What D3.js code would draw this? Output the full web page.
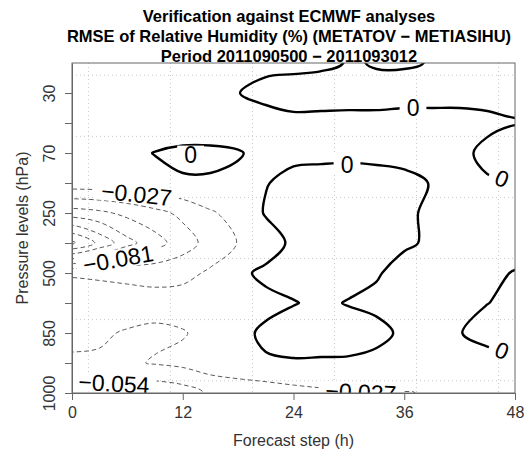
<!DOCTYPE html>
<html>
<head>
<meta charset="utf-8">
<script src="https://cdn.jsdelivr.net/npm/d3@7/dist/d3.min.js"></script>
<style>
  html, body { margin: 0; padding: 0; background: #fff; }
  svg { display: block; }
  text { font-family: "Liberation Sans", Arial, Helvetica, sans-serif; }
</style>
</head>
<body>
<svg id="chart" width="528" height="455"></svg>
<script>
// Forecast steps (h) along the x axis
const steps = [0, 3, 6, 9, 12, 15, 18, 21, 24, 27, 30, 33, 36, 39, 42, 45, 48];
// Pressure levels (hPa), top to bottom, drawn on an evenly spaced level axis
const levels = [10, 30, 50, 70, 100, 250, 400, 500, 700, 850, 925, 1000];
const labeledLevels = [30, 70, 250, 500, 850, 1000];
const stepTicks = [0, 12, 24, 36, 48];

// RMSE difference (METATOV − METIASIHU), one row per pressure level, one value per step
const p10   = [-0.008, -0.008, -0.008, -0.008, -0.008, -0.008, -0.008, -0.006, -0.005, -0.006, 0.0015, -0.001, -0.0015, 0.00065, 0.003, 0.005, 0.006];
const p30   = [-0.007, -0.007, -0.007, -0.007, -0.006, -0.004, -0.0005, 0.0068, 0.0085, 0.016, 0.012, 0.004, 0.006, 0.008, 0.008, 0.007, 0.006];
const p50   = [-0.008, -0.008, -0.009, -0.010, -0.012, -0.012, -0.008, -0.0102, -0.005, -0.0107, -0.009, -0.003, -0.006, -0.008, -0.008, -0.0047, -0.0012];
const p70   = [-0.007, -0.008, -0.004, 0.0005, 0.004, 0.004, 0.001, -0.004, -0.0049, -0.0059, -0.0059, -0.008, -0.0073, -0.006, -0.0053, 0.0053, 0.016];
const p100  = [-0.010, -0.010, -0.011, -0.005, -0.002, -0.002, -0.003, -0.001, 0.006, 0.010, 0.012, 0.012, 0.006, -0.001, -0.004, -0.0023, -0.00084];
const p250  = [-0.094, -0.087, -0.074, -0.062, -0.048, -0.030, -0.018, 0.002, 0.008, 0.010, 0.010, 0.008, 0.003, -0.003, -0.006, -0.008, -0.008];
const p400  = [-0.195, -0.155, -0.1165, -0.092, -0.0664, -0.044, -0.026, -0.012, 0.005, 0.008, 0.010, 0.008, 0.003, -0.003, -0.007, -0.010, -0.009];
const p500  = [-0.030, -0.032, -0.034, -0.036, -0.035, -0.023, -0.005, 0.005, 0.008, 0.010, 0.008, 0.002, -0.008, -0.008, -0.007, -0.004, 0.001];
const p700  = [-0.010, -0.012, -0.015, -0.017, -0.014, -0.010, -0.008, -0.006, -0.001, 0.004, -0.0013, -0.005, -0.008, -0.007, -0.004, -0.0005, 0.006];
const p850  = [-0.020, -0.024, -0.029, -0.032, -0.029, -0.018, -0.006, 0.004, 0.010, 0.012, 0.010, 0.006, -0.004, -0.005, -0.0011, 0.010, 0.010];
const p925  = [-0.031, -0.030, -0.031, -0.025, -0.020, -0.012, -0.005, -0.0023, -0.002, -0.003, -0.003, -0.006, -0.008, -0.010, -0.012, -0.012, -0.0043];
const p1000 = [-0.066, -0.072, -0.076, -0.074, -0.067, -0.050, -0.047, -0.042, -0.036, -0.032, -0.030, -0.029, -0.028, -0.0255, -0.022, -0.018, -0.014];
const field = [p10, p30, p50, p70, p100, p250, p400, p500, p700, p850, p925, p1000];

// Isolines: interval 0.027, zero line drawn solid
const contourLevels = [-0.189, -0.162, -0.135, -0.108, -0.081, -0.054, -0.027, 0];

// Inline isoline labels: value, anchor (step in h, level index), text angle
const contourLabels = [
  { value: -0.027, step: 7.0,   level: 4.37,  angle: 6 },
  { value: -0.081, step: 5.0,   level: 6.53,  angle: -10 },
  { value: 0,      step: 12.85, level: 3.07,  angle: 0 },
  { value: 0,      step: 29.8,  level: 3.38,  angle: 0 },
  { value: 0,      step: 36.95, level: 1.5,   angle: 0 },
  { value: 0,      step: 46.6,  level: 3.85,  angle: 22 },
  { value: 0,      step: 46.6,  level: 9.58,  angle: 22 },
  { value: -0.054, step: 4.55,  level: 10.68, angle: 3 },
  { value: -0.027, step: 31.3,  level: 10.97, angle: 3 }
];

const frame = { left: 72, right: 515, top: 63, bottom: 393 };

const svg = d3.select("#chart");

const x = d3.scaleLinear().domain([steps[0], steps[steps.length - 1]]).range([frame.left, frame.right]);
const yIdx = d3.scaleLinear().domain([0, levels.length - 1]).range([frame.top, frame.bottom]);
const colToStep = d3.scaleLinear().domain([0, steps.length - 1]).range([steps[0], steps[steps.length - 1]]);

// Title
const title = [
  "Verification against ECMWF analyses",
  "RMSE of Relative Humidity (%) (METATOV \u2212 METIASIHU)",
  "Period 2011090500 \u2212 2011093012"
];
svg.append("g").selectAll("text").data(title).join("text")
  .attr("x", 289)
  .attr("y", (d, i) => 21.5 + i * 20)
  .attr("text-anchor", "middle")
  .attr("font-size", 16.5)
  .attr("font-weight", "bold")
  .attr("fill", "#000")
  .text(d => d);

// Clip to the plotting region
svg.append("defs").append("clipPath").attr("id", "plotClip")
  .append("rect")
  .attr("x", frame.left).attr("y", frame.top)
  .attr("width", frame.right - frame.left).attr("height", frame.bottom - frame.top);

const plot = svg.append("g").attr("clip-path", "url(#plotClip)");

// Dotted background grid, evenly spread inside the frame
const gridFrac = d3.range(6).map(k => (1 + 5 * k) / 27);
const fx = f => frame.left + f * (frame.right - frame.left);
const fy = f => frame.top + f * (frame.bottom - frame.top);
plot.append("g").selectAll("line").data(gridFrac).join("line")
  .attr("x1", fx).attr("x2", fx)
  .attr("y1", frame.top).attr("y2", frame.bottom)
  .attr("stroke", "#c8c8c8").attr("stroke-width", 1).attr("stroke-dasharray", "1,3");
plot.append("g").selectAll("line").data(gridFrac).join("line")
  .attr("y1", fy).attr("y2", fy)
  .attr("x1", frame.left).attr("x2", frame.right)
  .attr("stroke", "#c8c8c8").attr("stroke-width", 1).attr("stroke-dasharray", "1,3");

// Contour the field; border values are repeated one cell outward so lines run cleanly into the frame
const nx = steps.length, ny = levels.length;
const px = nx + 2, py = ny + 2;
const padded = new Array(px * py);
for (let j = 0; j < py; j++) {
  for (let i = 0; i < px; i++) {
    const r = Math.min(ny - 1, Math.max(0, j - 1));
    const c = Math.min(nx - 1, Math.max(0, i - 1));
    padded[j * px + i] = field[r][c];
  }
}
const isolines = d3.contours().size([px, py]).thresholds(contourLevels)(padded);

const ringLine = d3.line()
  .x(p => x(colToStep(p[0] - 1.5)))
  .y(p => yIdx(p[1] - 1.5))
  .curve(d3.curveCatmullRomClosed.alpha(0.5));

const lineG = plot.append("g");
isolines.forEach(iso => {
  const isZero = Math.abs(iso.value) < 1e-9;
  iso.coordinates.forEach(poly => {
    poly.forEach(ring => {
      const pts = ring.slice(0, ring.length - 1);
      if (pts.length < 3) return;
      lineG.append("path")
        .attr("d", ringLine(pts))
        .attr("fill", "none")
        .attr("stroke", isZero ? "#000" : "#5a5a5a")
        .attr("stroke-width", isZero ? 2.4 : 1)
        .attr("stroke-dasharray", isZero ? null : "4.5,3")
        .attr("stroke-linejoin", "round");
    });
  });
});

// Isoline labels with a white gap behind them
const fmt = v => (Math.abs(v) < 1e-9 ? "0" : (v < 0 ? "\u2212" : "") + Math.abs(v).toFixed(3));
const labelG = plot.append("g");
contourLabels.forEach(d => {
  const g = labelG.append("g")
    .attr("transform", `translate(${x(d.step)},${yIdx(d.level)}) rotate(${d.angle})`);
  const rect = g.append("rect").attr("fill", "#fff");
  const t = g.append("text")
    .attr("text-anchor", "middle")
    .attr("dy", "0.36em")
    .attr("font-size", 23)
    .attr("fill", "#000")
    .text(fmt(d.value));
  const w = t.node().getComputedTextLength();
  rect.attr("x", -w / 2 - 7).attr("y", -9.5).attr("width", w + 14).attr("height", 19);
});

// Frame
svg.append("rect")
  .attr("x", frame.left).attr("y", frame.top)
  .attr("width", frame.right - frame.left).attr("height", frame.bottom - frame.top)
  .attr("fill", "none").attr("stroke", "#666").attr("stroke-width", 1);

// Axes
const yAxis = d3.axisLeft(yIdx)
  .tickValues(d3.range(1, levels.length))
  .tickSize(7).tickSizeOuter(0)
  .tickFormat(i => labeledLevels.includes(levels[i]) ? String(levels[i]) : "");
const gy = svg.append("g").attr("transform", `translate(${frame.left},0)`).call(yAxis);
gy.select(".domain").attr("stroke", "#666");
gy.selectAll(".tick line").attr("stroke", "#666");
gy.selectAll(".tick text")
  .attr("x", 0).attr("y", -17).attr("dy", null)
  .attr("text-anchor", "middle")
  .attr("transform", "rotate(-90)")
  .attr("font-size", 16)
  .attr("font-family", null)
  .attr("fill", "#333");

const xAxis = d3.axisBottom(x).tickValues(stepTicks).tickSize(7).tickSizeOuter(0).tickFormat(d3.format("d"));
const gx = svg.append("g").attr("transform", `translate(0,${frame.bottom})`).call(xAxis);
gx.select(".domain").attr("stroke", "#666");
gx.selectAll(".tick line").attr("stroke", "#666");
gx.selectAll(".tick text")
  .attr("y", 25).attr("dy", null)
  .attr("font-size", 16)
  .attr("font-family", null)
  .attr("fill", "#333");

// Axis titles
svg.append("text")
  .attr("x", (frame.left + frame.right) / 2).attr("y", 446)
  .attr("text-anchor", "middle")
  .attr("font-size", 16)
  .attr("fill", "#333")
  .text("Forecast step (h)");
svg.append("text")
  .attr("transform", `translate(28,${(frame.top + frame.bottom) / 2}) rotate(-90)`)
  .attr("text-anchor", "middle")
  .attr("font-size", 16)
  .attr("fill", "#333")
  .text("Pressure levels (hPa)");
</script>
</body>
</html>
